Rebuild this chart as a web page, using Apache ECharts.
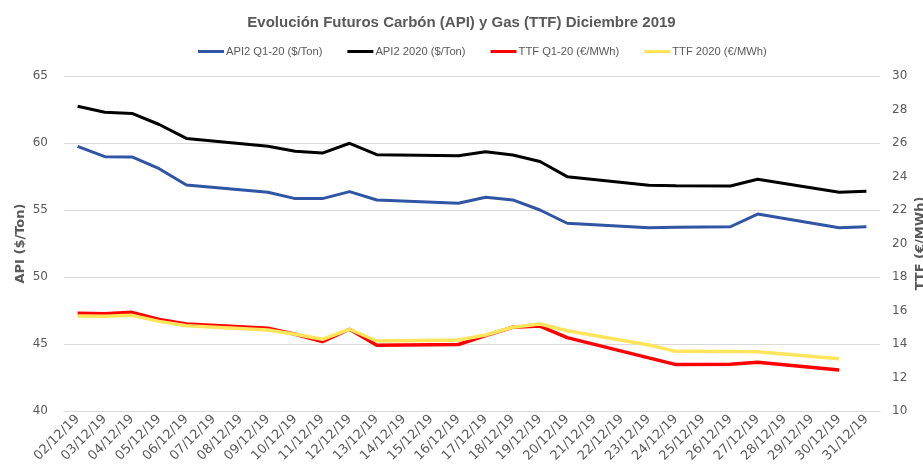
<!DOCTYPE html>
<html>
<head>
<meta charset="utf-8">
<script src="https://cdn.jsdelivr.net/npm/echarts@6/dist/echarts.min.js"></script>
<style>
  html, body { margin: 0; padding: 0; background: #fff; }
  #chart { width: 923px; height: 468px; }
</style>
</head>
<body>
<div id="chart"></div>
<script>
// fechas (fines de semana y 25/12 sin cotizacion -> null)
let dates = ["02/12/19", "03/12/19", "04/12/19", "05/12/19", "06/12/19", "07/12/19", "08/12/19",
  "09/12/19", "10/12/19", "11/12/19", "12/12/19", "13/12/19", "14/12/19", "15/12/19",
  "16/12/19", "17/12/19", "18/12/19", "19/12/19", "20/12/19", "21/12/19", "22/12/19",
  "23/12/19", "24/12/19", "25/12/19", "26/12/19", "27/12/19", "28/12/19", "29/12/19",
  "30/12/19", "31/12/19"];

let api2Q1 = [59.75, 58.98, 58.96, 58.08, 56.87, null, null,
  56.32, 55.85, 55.85, 56.37, 55.75, null, null,
  55.50, 55.95, 55.75, 55.00, 54.01, null, null,
  53.68, 53.72, null, 53.75, 54.70, null, null,
  53.68, 53.75];

let api2Year = [62.74, 62.30, 62.21, 61.38, 60.34, null, null,
  59.75, 59.38, 59.25, 59.98, 59.13, null, null,
  59.05, 59.35, 59.10, 58.62, 57.49, null, null,
  56.84, 56.81, null, 56.79, 57.29, null, null,
  56.32, 56.40];

let ttfQ1 = [15.83, 15.81, 15.89, 15.47, 15.19, null, null,
  14.94, 14.58, 14.14, 14.88, 13.92, null, null,
  13.97, 14.50, 15.00, 15.07, 14.38, null, null,
  13.17, 12.77, null, 12.79, 12.91, null, null,
  12.45, null];

let ttfYear = [15.67, 15.65, 15.71, 15.35, 15.09, null, null,
  14.84, 14.58, 14.28, 14.88, 14.18, null, null,
  14.24, 14.54, 15.00, 15.19, 14.79, null, null,
  13.94, 13.56, null, 13.55, 13.54, null, null,
  13.12, null];

let chart = echarts.init(document.getElementById("chart"));
let fontColor = "#595959";
let labelFont = "'DejaVu Sans', sans-serif";
let narrowFont = "'Liberation Sans Narrow', 'Liberation Sans', sans-serif";

let lineSeries = (name, data, color, width, axis) => ({
  name,
  type: "line",
  yAxisIndex: axis,
  symbol: "none",
  connectNulls: true,
  lineStyle: { color, width },
  itemStyle: { color },
  data
});

let option = {
  animation: false,
  title: {
    text: "Evolución Futuros Carbón (API) y Gas (TTF) Diciembre 2019",
    left: "center",
    top: 10,
    textStyle: { color: fontColor, fontSize: 15, fontWeight: "bold", fontFamily: narrowFont }
  },
  legend: {
    top: 41,
    left: 193,
    itemWidth: 26,
    itemHeight: 3,
    itemGap: 25,
    icon: "rect",
    textStyle: { color: fontColor, fontSize: 11.2, fontFamily: narrowFont, padding: [0, 0, 0, -3] }
  },
  grid: {
    left: 64,
    right: 43,
    top: 76,
    bottom: 57,
    containLabel: false,
    outerBoundsMode: "none"
  },
  xAxis: {
    type: "category",
    data: dates,
    boundaryGap: true,
    axisLine: { show: true, lineStyle: { color: "#d9d9d9" } },
    axisTick: { show: false },
    axisLabel: {
      interval: 0,
      rotate: 45,
      margin: 6,
      color: fontColor,
      fontSize: 13,
      fontFamily: labelFont
    }
  },
  yAxis: [
    {
      type: "value",
      min: 40,
      max: 65,
      interval: 5,
      name: "API ($/Ton)",
      nameLocation: "middle",
      nameRotate: 90,
      nameGap: 37,
      nameMoveOverlap: false,
      nameTextStyle: { color: fontColor, fontSize: 13, fontWeight: "bold", fontFamily: labelFont },
      axisLine: { show: false },
      axisTick: { show: false },
      axisLabel: { color: fontColor, fontSize: 12, fontFamily: labelFont, margin: 16 },
      splitLine: { lineStyle: { color: "#d9d9d9", width: 1 } }
    },
    {
      type: "value",
      min: 10,
      max: 30,
      interval: 2,
      name: "TTF (€/MWh)",
      nameLocation: "middle",
      nameRotate: 90,
      nameGap: 34,
      nameMoveOverlap: false,
      nameTextStyle: { color: fontColor, fontSize: 13, fontWeight: "bold", fontFamily: labelFont },
      axisLine: { show: false },
      axisTick: { show: false },
      axisLabel: { color: fontColor, fontSize: 12, fontFamily: labelFont, margin: 12 },
      splitLine: { show: false }
    }
  ],
  series: [
    lineSeries("API2 Q1-20 ($/Ton)", api2Q1, "#2f55a4", 3, 0),
    lineSeries("API2 2020 ($/Ton)", api2Year, "#000000", 3, 0),
    lineSeries("TTF Q1-20 (€/MWh)", ttfQ1, "#ff0000", 3.5, 1),
    lineSeries("TTF 2020 (€/MWh)", ttfYear, "#ffe45c", 3.5, 1)
  ]
};

chart.setOption(option, true);
</script>
</body>
</html>
